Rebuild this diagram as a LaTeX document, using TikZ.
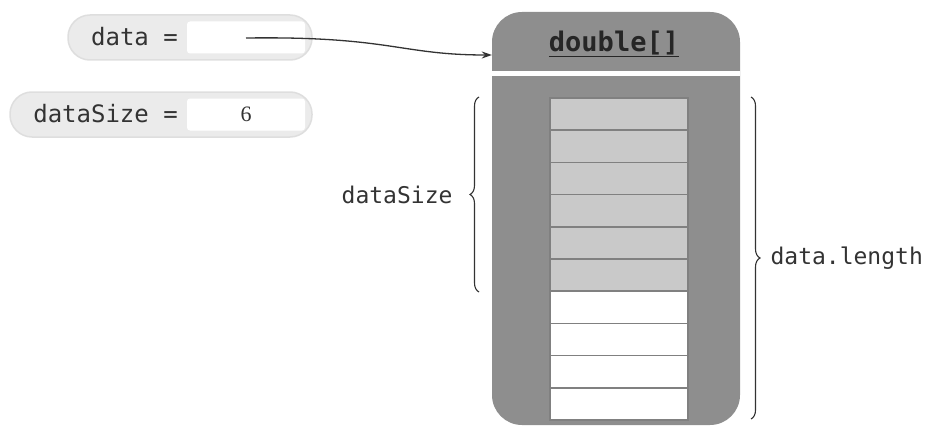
\documentclass[tikz,border=0pt]{standalone}
\usepackage{fontspec}
\setmonofont{DejaVu Sans Mono}
\newfontfamily\numfont{Liberation Serif}
\usetikzlibrary{positioning, calc, arrows.meta, decorations.pathreplacing}

\definecolor{pillgray}{HTML}{EBEBEB}
\definecolor{pilledge}{HTML}{DEDEDE}
\definecolor{objgray}{HTML}{8E8E8E}
\definecolor{cellgray}{HTML}{C9C9C9}
\definecolor{inkgray}{HTML}{333333}

\tikzset{
    pill/.style={rectangle, rounded corners=22pt, fill=pillgray, draw=pilledge, line width=1.5pt, minimum height=45pt},
    valuebox/.style={rectangle, rounded corners=3pt, fill=white, minimum width=118pt, minimum height=32pt},
    varname/.style={font=\ttfamily\fontsize{24}{26}\selectfont, text=inkgray, anchor=east, inner sep=0pt},
    cellbox/.style={rectangle, draw=objgray!90!black, line width=1.5pt, minimum width=138pt, minimum height=32.2pt},
    bracelabel/.style={font=\ttfamily\fontsize{23}{26}\selectfont, text=inkgray, inner sep=0pt}
}

\begin{document}
\begin{tikzpicture}[x=1pt, y=-1pt]
    \useasboundingbox (0,0) rectangle (936,436);

        % Variables
        \node (datapill) [pill, minimum width=244pt] at (190,37.5) {};
        \node (databox) [valuebox] at (246,37.5) {};
        \node (datalbl) [varname] at (178,37) {data =};
        \node (sizepill) [pill, minimum width=302pt] at (161,114.5) {};
        \node (sizebox) [valuebox] at (246,114.5) {};
        \node (sizelbl) [varname] at (178,114) {dataSize =};
        \node (sizeval) [font=\numfont\fontsize{22}{24}\selectfont, text=inkgray] at (sizebox) {6};

        % Array object
        \node (arr) [rectangle, rounded corners=30pt, fill=objgray, minimum width=248pt, minimum height=413pt] at (616,218.5) {};
        \draw[white, line width=5pt] (492,73.5) -- (740,73.5);
        \node (arrtype) [font=\ttfamily\bfseries\fontsize{27}{30}\selectfont, text=black!85] at (614,44) {\underline{double[]}};

        % Cells
        \foreach \i in {0,...,9} {
            \ifnum\i<6
                \node (cell\i) [cellbox, fill=cellgray] at (619,{114.1+32.2*\i}) {};
            \else
                \node (cell\i) [cellbox, fill=white] at (619,{114.1+32.2*\i}) {};
            \fi
        }

        % Reference arrow
        \coordinate (ptrstart) at (246,38);
        \coordinate (ptrend) at (arr.west |- 0,55);
        \draw[-{Stealth[length=10pt, width=7pt]}, line width=1.3pt, inkgray] (ptrstart) .. controls (390,36) and (400,55) .. (ptrend);

        % Braces
        \draw[decorate, decoration={brace, amplitude=9pt}, line width=1.1pt, inkgray] (479,292) -- (479,97) node (sizebrace) [midway, left=26pt, bracelabel] {dataSize};
        \draw[decorate, decoration={brace, amplitude=9pt}, line width=1.1pt, inkgray] (751,97) -- (751,419) node (lenbrace) [midway, right=19pt, bracelabel] {data.length};

    \end{tikzpicture}
\end{document}
